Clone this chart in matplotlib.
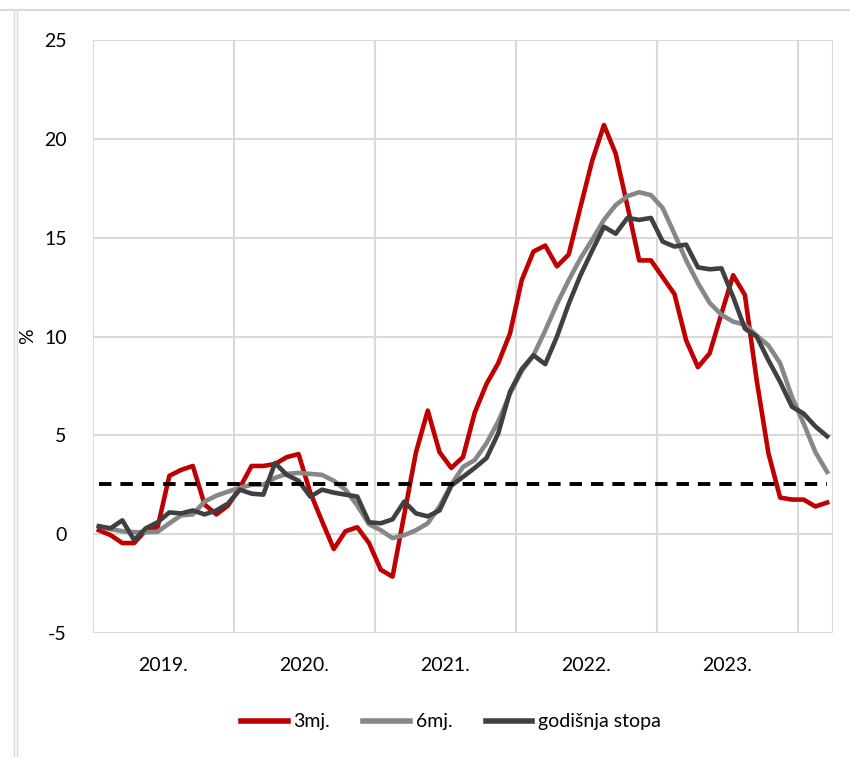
import numpy as np
import matplotlib
matplotlib.use('Agg')
import matplotlib.pyplot as plt
from matplotlib.lines import Line2D

plt.rcParams['font.family'] = ['Lato', 'DejaVu Sans']
plt.rcParams['axes.unicode_minus'] = False

# monthly data, Jan 2019 - Mar 2024
years = ['2019.', '2020.', '2021.', '2022.', '2023.']
target = 2.56

mj3 = [0.2, -0.05, -0.45, -0.45, 0.2, 0.35, 2.95, 3.25, 3.45, 1.5, 1.0, 1.45,
       2.35, 3.45, 3.45, 3.55, 3.9, 4.05, 2.1, 0.65, -0.75, 0.15, 0.35, -0.45,
       -1.8, -2.15, 1.0, 4.15, 6.25, 4.15, 3.35, 3.9, 6.15, 7.6, 8.65, 10.15,
       12.85, 14.3, 14.6, 13.55, 14.15, 16.55, 18.9, 20.7, 19.25, 16.6, 13.85, 13.85,
       13.0, 12.15, 9.8, 8.45, 9.15, 11.15, 13.1, 12.1, 7.8, 4.1, 1.85, 1.75,
       1.75, 1.4, 1.6]
mj6 = [0.4, 0.25, 0.15, 0.1, 0.1, 0.12, 0.55, 0.95, 1.0, 1.65, 1.95, 2.15,
       2.35, 2.5, 2.5, 2.85, 3.05, 3.1, 3.05, 3.0, 2.7, 2.25, 1.45, 0.5,
       0.2, -0.2, -0.05, 0.2, 0.55, 1.4, 2.5, 3.4, 3.75, 4.6, 5.7, 7.1,
       8.25, 9.05, 10.3, 11.65, 12.85, 13.95, 14.9, 15.9, 16.65, 17.1, 17.3, 17.15,
       16.5, 15.2, 13.85, 12.7, 11.7, 11.1, 10.75, 10.6, 10.05, 9.55, 8.65, 6.95,
       5.6, 4.15, 3.15]
god = [0.4, 0.3, 0.7, -0.3, 0.3, 0.6, 1.1, 1.05, 1.2, 1.0, 1.2, 1.55,
       2.25, 2.05, 2.0, 3.6, 3.0, 2.7, 1.9, 2.25, 2.1, 2.0, 1.9, 0.6,
       0.55, 0.75, 1.65, 1.05, 0.9, 1.2, 2.45, 2.9, 3.35, 3.85, 5.1, 7.2,
       8.35, 9.05, 8.6, 10.0, 11.65, 13.1, 14.35, 15.55, 15.2, 16.0, 15.9, 16.0,
       14.8, 14.55, 14.65, 13.5, 13.4, 13.45, 12.0, 10.4, 10.0, 8.8, 7.7, 6.45,
       6.1, 5.45, 4.95]

x = np.arange(len(mj3))

fig = plt.figure(figsize=(8.5, 7.57), dpi=100)
ax = fig.add_axes([93/850, 1-633/757, (833-93)/850, (633-40)/757])

grid_c = '#d9d9d9'
ax.set_xlim(-0.5, len(x) - 0.5)
ax.set_ylim(-5, 25)
ax.set_yticks(range(-5, 30, 5))
for yv in range(-5, 30, 5):
    ax.axhline(yv, color=grid_c, lw=1.5, zorder=0)
for xv in [-0.5, 11.5, 23.5, 35.5, 47.5, 59.5, 62.5]:
    ax.axvline(xv, color=grid_c, lw=1.5, zorder=0)
for s in ax.spines.values():
    s.set_visible(False)

ax.plot(x, mj3, color='#c00000', lw=3.3)
ax.plot(x, mj6, color='#878787', lw=3.3)
ax.plot(x, god, color='#404040', lw=3.3)
ax.plot(x, [target]*len(x), color='black', lw=2.8, ls=(0, (3.2, 2.3)))

ax.set_xticks([5.5 + 12*i for i in range(len(years))])
ax.set_xticklabels(years)
ax.tick_params(axis='both', length=0, labelsize=14, colors='black')
ax.tick_params(axis='x', pad=17)
ax.tick_params(axis='y', pad=19)
ax.set_ylabel('%', fontsize=14)
ax.yaxis.set_label_coords(-(93-36)/740, 0.5)

handles = [Line2D([], [], color='#c00000', lw=4),
           Line2D([], [], color='#878787', lw=4),
           Line2D([], [], color='#404040', lw=4)]
fig.legend(handles, ['3mj.', '6mj.', 'godišnja stopa'], loc='center',
           bbox_to_anchor=(451/850, 1-722/757), ncol=3, frameon=False,
           fontsize=14, handlelength=2.4, handletextpad=0.3, columnspacing=1.7)

# outer frame lines
fig.add_artist(Line2D([0, 1], [1-10/757, 1-10/757], color=grid_c, lw=1.5))
fig.add_artist(Line2D([14/850, 14/850], [0, 1-10/757], color=grid_c, lw=1))
fig.add_artist(Line2D([16.5/850, 16.5/850], [0, 1-10/757], color=grid_c, lw=1))

fig.savefig('out.png', dpi=100)
